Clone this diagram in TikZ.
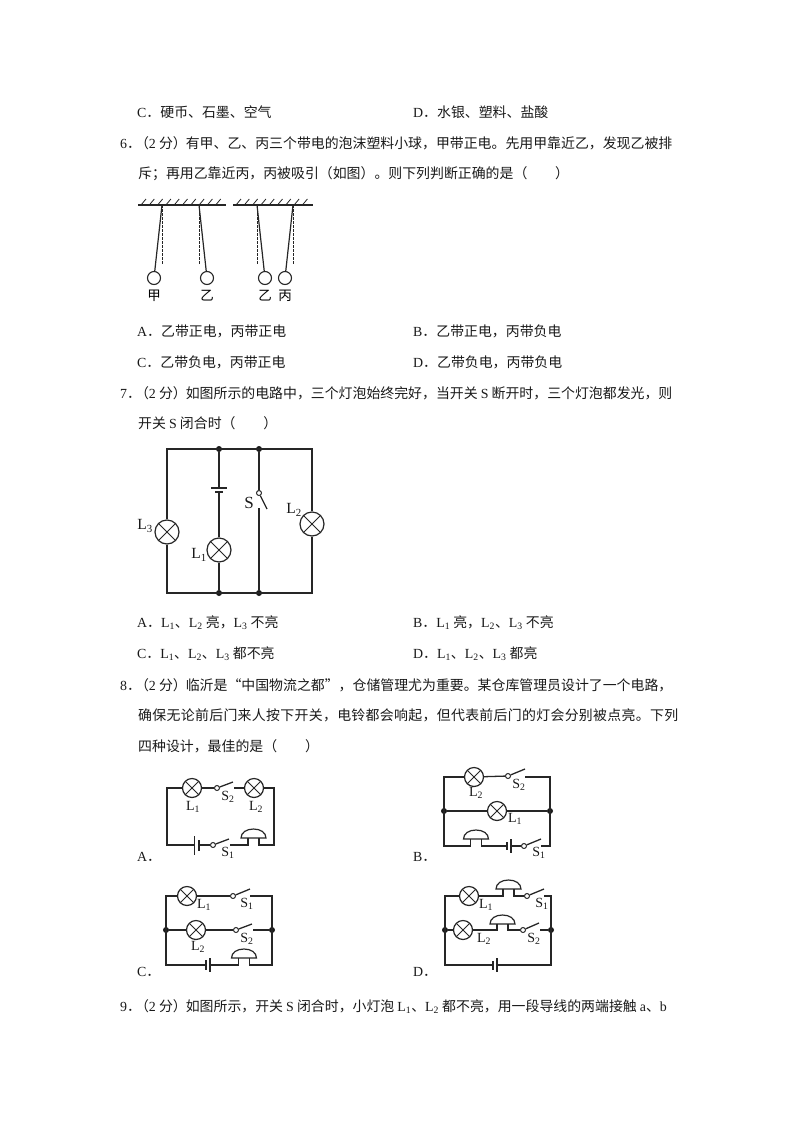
\documentclass[tikz,border=0pt]{standalone}
\usepackage{fontspec}
\setmainfont{Liberation Serif}
\newfontfamily\cjk{Noto Sans CJK SC}
\newcommand{\lat}[1]{{\rmfamily #1}}
\newcommand{\Lsub}[1]{\lat{L\textsubscript{#1}}}
% question number with its tightened mark
\newcommand{\qnum}[1]{\lat{#1}．\hspace{-6pt}（\lat{2} 分）\hspace{-1pt}}
\usetikzlibrary{positioning}

\begin{document}
\begin{tikzpicture}[x=1pt, y=-1pt,
  txt/.style={anchor=base west, inner sep=0pt, text=black!90, font=\cjk\fontsize{13.9}{16}\selectfont},
  lbl/.style={inner sep=0pt, text=black!90, font=\rmfamily\fontsize{14}{16}\selectfont},
  big lbl/.style={lbl, font=\rmfamily\fontsize{15.5}{18}\selectfont},
  zh/.style={inner sep=0pt, text=black, font=\cjk\fontsize{13.5}{15}\selectfont},
  wire/.style={draw=black!85, line width=1.3pt},
  thin wire/.style={draw=black!85, line width=1pt},
  lamp/.style={circle, draw=black!85, line width=1.2pt, fill=white, inner sep=0pt, minimum size=#1,
    path picture={
      \draw[black!85, line width=1pt] (path picture bounding box.north west) -- (path picture bounding box.south east);
      \draw[black!85, line width=1pt] (path picture bounding box.north east) -- (path picture bounding box.south west);
    }},
  lamp/.default=19pt,
  ball/.style={circle, draw=black!85, line width=1.1pt, inner sep=0pt, minimum size=13pt},
  pivot/.style={circle, draw=black!85, line width=1pt, fill=white, inner sep=0pt, minimum size=5pt},
  joint/.style={circle, fill=black!90, inner sep=0pt, minimum size=6pt},
  vplate/.style={fill=black!85, inner sep=0pt, minimum width=1.3pt, minimum height=#1},
  hplate/.style={fill=black!85, inner sep=0pt, minimum height=1.3pt, minimum width=#1},
  bell/.pic={
    \draw[thin wire, line width=1.2pt, fill=white] (-12.5,0) .. controls (-12.5,-5.5) and (-7,-9) .. (0,-9)
      .. controls (7,-9) and (12.5,-5.5) .. (12.5,0) -- cycle;
    \coordinate (-w) at (-5.5,0);
    \coordinate (-e) at (5.5,0);
  }
]
\useasboundingbox (0,0) rectangle (794,1122);

% text above question 6
\node[txt] (c5) at (137,117) {\lat{C}．硬币、石墨、空气};
\node[txt] (d5) at (413,117) {\lat{D}．水银、塑料、盐酸};
\node[txt] (q6a) at (120,148) {\qnum{6}有甲、乙、丙三个带电的泡沫塑料小球，甲带正电。先用甲靠近乙，发现乙被排};
\node[txt] (q6b) at (138,178) {斥；再用乙靠近丙，丙被吸引（如图）。则下列判断正确的是（\hspace{2em}）};

% question 6 figure
\coordinate (c1) at (138,205);
\coordinate (c2) at (226,205);
\coordinate (c3) at (233,205);
\coordinate (c4) at (313,205);
\draw[thin wire, line width=1.2pt] (c1) -- (c2);
\draw[thin wire, line width=1.2pt] (c3) -- (c4);
\foreach \x in {141,149.3,...,222} \draw[black!85, line width=0.8pt] (\x,205) -- (\x+5,199);
\foreach \x in {236,244.3,...,310} \draw[black!85, line width=0.8pt] (\x,205) -- (\x+5,199);
\foreach \name/\px/\bx/\txt in {a/162/154/甲, b/199/207/乙, e/257/265/乙, f/293/285/丙} {
  \coordinate (p\name) at (\px,205);
  \coordinate (h\name) at (\px,264);
  \node[ball] (m\name) at (\bx,278) {};
  \node[zh, below=5pt of m\name] (n\name) {\txt};
  \draw[black!85, line width=1.2pt] (p\name) -- (m\name);
  \draw[black!85, line width=0.9pt, dash pattern=on 2.5pt off 1.5pt] (p\name) -- (h\name);
}

\node[txt] (a6) at (137,336) {\lat{A}．乙带正电，丙带正电};
\node[txt] (b6) at (413,336) {\lat{B}．乙带正电，丙带负电};
\node[txt] (c6) at (137,367) {\lat{C}．乙带负电，丙带正电};
\node[txt] (d6) at (413,367) {\lat{D}．乙带负电，丙带负电};
\node[txt] (q7a) at (120,398) {\qnum{7}如图所示的电路中，三个灯泡始终完好，当开关 \lat{S} 断开时，三个灯泡都发光，则};
\node[txt] (q7b) at (138,428) {开关 \lat{S} 闭合时（\hspace{2em}）};

% question 7 circuit
\coordinate (tl) at (167,449);
\coordinate (tr) at (312,449);
\coordinate (bl) at (167,593);
\coordinate (br) at (312,593);
\node[joint] (t1) at (219,449) {};
\node[joint] (t2) at (259,449) {};
\node[joint] (b1) at (219,593) {};
\node[joint] (b2) at (259,593) {};
\node[lamp=24pt] (l3) at (167,532) {};
\node[lamp=24pt] (l1) at (219,550) {};
\node[lamp=24pt] (l2) at (312,524) {};
\node[hplate=16pt] (e1) at (219,488) {};
\node[hplate=8pt] (e2) at (219,492) {};
\node[pivot] (s0) at (259,493) {};
\coordinate (s1) at (267,509);
\coordinate (s2) at (259,508);
\draw[wire] (l3) -- (tl) -- (tr) -- (l2);
\draw[wire] (l3) -- (bl) -- (br) -- (l2);
\draw[wire] (t1) -- (e1);
\draw[wire] (e2) -- (l1);
\draw[wire] (l1) -- (b1);
\draw[wire] (t2) -- (s0);
\draw[wire] (s0) -- (s1);
\draw[wire] (s2) -- (b2);
\node[big lbl, font=\rmfamily\fontsize{17}{19}\selectfont] (sl) at (249,503) {S};
\node[big lbl] (n3) at (145,526) {L\textsubscript{3}};
\node[big lbl] (n1) at (199,555) {L\textsubscript{1}};
\node[big lbl] (n2) at (294,510) {L\textsubscript{2}};

\node[txt] (a7) at (137,627) {\lat{A}．\Lsub{1}、\Lsub{2} 亮，\Lsub{3} 不亮};
\node[txt] (b7) at (413,627) {\lat{B}．\Lsub{1} 亮，\Lsub{2}、\Lsub{3} 不亮};
\node[txt] (c7) at (137,658) {\lat{C}．\Lsub{1}、\Lsub{2}、\Lsub{3} 都不亮};
\node[txt] (d7) at (413,658) {\lat{D}．\Lsub{1}、\Lsub{2}、\Lsub{3} 都亮};
\node[txt] (q8a) at (120,690) {\qnum{8}临沂是“中国物流之都”，仓储管理尤为重要。某仓库管理员设计了一个电路，};
\node[txt] (q8b) at (138,720) {\addfontfeature{LetterSpace=2.3}确保无论前后门来人按下开关，电铃都会响起，但代表前后门的灯会分别被点亮。下列};
\node[txt] (q8c) at (138,751) {四种设计，最佳的是（\hspace{2em}）};

% circuit A
\coordinate (atl) at (167,788);
\coordinate (atr) at (274,788);
\coordinate (abl) at (167,845);
\coordinate (abr) at (274,845);
\node[lamp] (al1) at (192,788) {};
\node[lamp] (al2) at (254,788) {};
\node[pivot] (as2) at (217,788) {};
\coordinate (as2t) at (233,782);
\coordinate (as2e) at (234,788);
\node[vplate=19pt] (ae1) at (194.5,845) {};
\node[vplate=11pt] (ae2) at (199,845) {};
\node[pivot] (as1) at (213,845) {};
\coordinate (as1t) at (229,839);
\coordinate (as1e) at (230,845);
\pic (ab) at (253.5,838) {bell};
\draw[wire] (al1) -- (atl) -- (abl) -- (ae1);
\draw[wire] (al1) -- (as2);
\draw[wire] (as2) -- (as2t);
\draw[wire] (as2e) -- (al2);
\draw[wire] (al2) -- (atr) -- (abr) -| (ab-e);
\draw[wire] (ae2) -- (as1);
\draw[wire] (as1) -- (as1t);
\draw[wire] (as1e) -| (ab-w);
\node[lbl] (anl1) at (193,807) {L\textsubscript{1}};
\node[lbl] (ans2) at (228,797) {S\textsubscript{2}};
\node[lbl] (anl2) at (256,807) {L\textsubscript{2}};
\node[lbl] (ans1) at (228,853) {S\textsubscript{1}};
\node[txt] (at) at (137,861) {\lat{A}．};

% circuit B
\coordinate (btl) at (444,777);
\coordinate (btr) at (550,777);
\coordinate (bbl) at (444,846);
\coordinate (bbr) at (550,846);
\node[joint] (bj1) at (444,811) {};
\node[joint] (bj2) at (550,811) {};
\node[lamp] (bl2) at (474,777) {};
\node[lamp] (bl1) at (497,811) {};
\node[pivot] (bs2) at (508,776) {};
\coordinate (bs2t) at (525,769);
\coordinate (bs2e) at (525,777);
\node[vplate=14pt] (be1) at (511,846) {};
\node[vplate=8pt] (be2) at (507,846) {};
\node[pivot] (bs1) at (524,846) {};
\coordinate (bs1t) at (541,839);
\coordinate (bs1e) at (541,846);
\pic (bb) at (476,839) {bell};
\draw[wire] (bl2) -- (btl) -- (bbl) -| (bb-w);
\draw[wire] (bl2) -- (bs2);
\draw[wire] (bs2) -- (bs2t);
\draw[wire] (bs2e) -- (btr) -- (bbr) -- (bs1e);
\draw[wire] (bj1) -- (bl1);
\draw[wire] (bl1) -- (bj2);
\draw[wire] (bb-e) |- (be2);
\draw[wire] (be1) -- (bs1);
\draw[wire] (bs1) -- (bs1t);
\node[lbl] (bnl2) at (476,793) {L\textsubscript{2}};
\node[lbl] (bns2) at (519,785) {S\textsubscript{2}};
\node[lbl] (bnl1) at (515,819) {L\textsubscript{1}};
\node[lbl] (bns1) at (539,853) {S\textsubscript{1}};
\node[txt] (bt) at (413,861) {\lat{B}．};

% circuit C
\coordinate (ctl) at (166,896);
\coordinate (ctr) at (272,896);
\coordinate (cbl) at (166,965);
\coordinate (cbr) at (272,965);
\node[joint] (cj1) at (166,930) {};
\node[joint] (cj2) at (272,930) {};
\node[lamp] (cl1) at (187,896) {};
\node[lamp] (cl2) at (196,930) {};
\node[pivot] (cs1) at (233,896) {};
\coordinate (cs1t) at (250,889);
\coordinate (cs1e) at (250,896);
\node[pivot] (cs2) at (236,930) {};
\coordinate (cs2t) at (252,924);
\coordinate (cs2e) at (253,930);
\node[vplate=10pt] (ce1) at (206,965) {};
\node[vplate=14pt] (ce2) at (210,965) {};
\pic (cb) at (244,958) {bell};
\draw[wire] (cl1) -- (ctl) -- (cbl) -- (ce1);
\draw[wire] (cl1) -- (cs1);
\draw[wire] (cs1) -- (cs1t);
\draw[wire] (cs1e) -- (ctr) -- (cbr) -| (cb-e);
\draw[wire] (cj1) -- (cl2);
\draw[wire] (cl2) -- (cs2);
\draw[wire] (cs2) -- (cs2t);
\draw[wire] (cs2e) -- (cj2);
\draw[wire] (ce2) -| (cb-w);
\node[lbl] (cnl1) at (204,905) {L\textsubscript{1}};
\node[lbl] (cns1) at (247,904) {S\textsubscript{1}};
\node[lbl] (cnl2) at (198,947) {L\textsubscript{2}};
\node[lbl] (cns2) at (247,939) {S\textsubscript{2}};
\node[txt] (ct) at (137,976) {\lat{C}．};

% circuit D
\coordinate (dtl) at (445,896);
\coordinate (dtr) at (551,896);
\coordinate (dbl) at (445,965);
\coordinate (dbr) at (551,965);
\node[joint] (dj1) at (445,930) {};
\node[joint] (dj2) at (551,930) {};
\node[lamp] (dl1) at (469,896) {};
\node[lamp] (dl2) at (463,930) {};
\pic (db1) at (508.5,889) {bell};
\pic (db2) at (502.5,924) {bell};
\node[pivot] (ds1) at (527,896) {};
\coordinate (ds1t) at (544,889);
\coordinate (ds1e) at (544,896);
\node[pivot] (ds2) at (523,930) {};
\coordinate (ds2t) at (539,923);
\coordinate (ds2e) at (540,930);
\node[vplate=14pt] (de1) at (497,965) {};
\node[vplate=9pt] (de2) at (493,965) {};
\draw[wire] (dl1) -- (dtl) -- (dbl) -- (de2);
\draw[wire] (dl1) -| (db1-w);
\draw[wire] (db1-e) |- (ds1);
\draw[wire] (ds1) -- (ds1t);
\draw[wire] (ds1e) -- (dtr) -- (dbr) -- (de1);
\draw[wire] (dj1) -- (dl2);
\draw[wire] (dl2) -| (db2-w);
\draw[wire] (db2-e) |- (ds2);
\draw[wire] (ds2) -- (ds2t);
\draw[wire] (ds2e) -- (dj2);
\node[lbl] (dnl1) at (486,905) {L\textsubscript{1}};
\node[lbl] (dns1) at (542,904) {S\textsubscript{1}};
\node[lbl] (dnl2) at (484,939) {L\textsubscript{2}};
\node[lbl] (dns2) at (534,939) {S\textsubscript{2}};
\node[txt] (dt) at (413,976) {\lat{D}．};

\node[txt] (q9a) at (120,1011) {\qnum{9}如图所示，开关 \lat{S} 闭合时，小灯泡 \Lsub{1}、\Lsub{2} 都不亮，用一段导线的两端接触 \lat{a}、\lat{b}};
\end{tikzpicture}
\end{document}
